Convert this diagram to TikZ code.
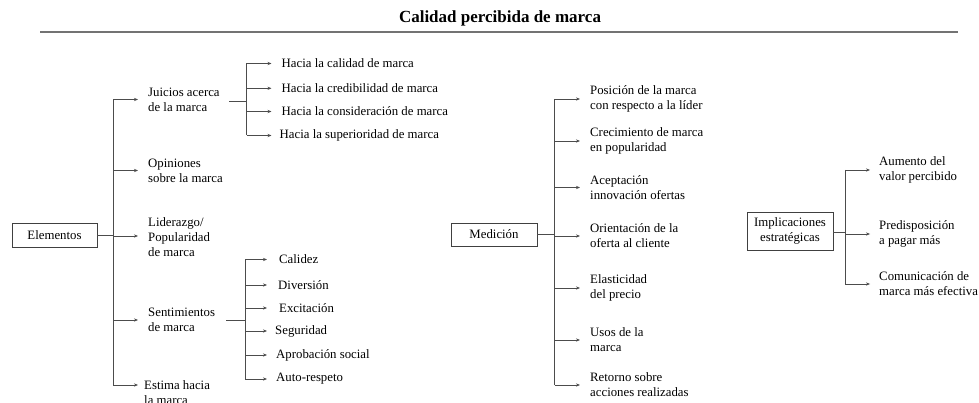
\documentclass[tikz,border=0pt]{standalone}
\usepackage{fontspec}
\setmainfont{Liberation Serif}
\usetikzlibrary{arrows.meta}
\begin{document}
\begin{tikzpicture}[x=1pt,y=-1pt,
  conn/.style={draw=black!70,line width=0.9pt},
  arr/.style={conn,-{Stealth[length=4pt,width=3.2pt]}},
  lbl/.style={anchor=west,inner sep=0pt,align=left,font=\fontsize{12.8}{14.8}\selectfont},
  boxn/.style={draw=black!75,line width=0.9pt,inner sep=0pt,align=center,font=\fontsize{12.8}{14.8}\selectfont}]
\useasboundingbox (0,0) rectangle (979,403);
% title
\node[font=\bfseries\fontsize{17}{20}\selectfont,inner sep=0pt] (title) at (500,18) {Calidad percibida de marca};
\coordinate (ruleL) at (40,32.5);
\coordinate (ruleR) at (958,32.5);
\draw[draw=black!55,line width=2pt] (ruleL) -- (ruleR);

% ---------- Elementos ----------
\node[boxn,minimum width=85pt,minimum height=24pt] (elem) at (54.5,235) {Elementos};
\coordinate (t1) at (113,235);
\draw[conn] (elem.east) -- (t1);
\node[lbl] (juic) at (148,99.5) {Juicios acerca\\de la marca};
\node[lbl] (opin) at (148,170.5) {Opiniones\\sobre la marca};
\node[lbl] (lider) at (148,237) {Liderazgo/\\Popularidad\\de marca};
\node[lbl] (senti) at (148,320) {Sentimientos\\de marca};
\node[lbl] (estima) at (144,393) {Estima hacia\\la marca};
\draw[conn] (t1 |- juic.west) -- ([yshift=8pt]t1 |- estima.west);
\foreach \n in {juic,opin,senti}{
  \draw[arr] (t1 |- \n.west) -- ([xshift=-10pt]\n.west);
}
\draw[arr] ([yshift=1pt]t1 |- lider.west) -- ([xshift=-10pt,yshift=1pt]lider.west);
\draw[arr] ([yshift=8pt]t1 |- estima.west) -- ([xshift=-6pt,yshift=8pt]estima.west);

% Juicios sub-branches
\coordinate (j0) at (229,101.7);
\coordinate (t2) at (246.7,101.7);
\draw[conn] (j0) -- (t2);
\node[lbl] (h1) at (281.5,63.5) {Hacia la calidad de marca};
\node[lbl] (h2) at (281.5,88.3) {Hacia la credibilidad de marca};
\node[lbl] (h3) at (281.5,111.5) {Hacia la consideración de marca};
\node[lbl] (h4) at (279.5,135.5) {Hacia la superioridad de marca};
\draw[conn] (t2 |- h1.west) -- (t2 |- h4.west);
\foreach \n in {h1,h2,h3}{
  \draw[arr] (t2 |- \n.west) -- ([xshift=-10pt]\n.west);
}
\draw[arr] (t2 |- h4.west) -- ([xshift=-8pt]h4.west);

% Sentimientos sub-branches
\coordinate (s0) at (226,320.5);
\coordinate (t3) at (245,320.5);
\draw[conn] (s0) -- (t3);
\node[lbl] (s1) at (279,259.5) {Calidez};
\node[lbl] (s2) at (278,285) {Diversión};
\node[lbl] (s3) at (279,308) {Excitación};
\node[lbl] (s4) at (275,331) {Seguridad};
\node[lbl] (s5) at (276,355) {Aprobación social};
\node[lbl] (s6) at (276,379) {Auto-respeto};
\draw[conn] (t3 |- s1.west) -- (t3 |- s6.west);
\foreach \n in {s1,s2,s3,s4,s5,s6}{
  \draw[arr] (t3 |- \n.west) -- ([xshift=-9pt]\n.west -| 276,0);
}

% ---------- Medición ----------
\node[boxn,minimum width=86pt,minimum height=23pt] (med) at (494,234.5) {Medición};
\coordinate (t4) at (554.5,234.5);
\draw[conn] (med.east) -- (t4);
\node[lbl] (m1) at (590,99) {Posición de la marca\\con respecto a la líder};
\node[lbl] (m2) at (590,141) {Crecimiento de marca\\en popularidad};
\node[lbl] (m3) at (590,187.5) {Aceptación\\innovación ofertas};
\node[lbl] (m4) at (590,236) {Orientación de la\\oferta al cliente};
\node[lbl] (m5) at (590,288) {Elasticidad\\del precio};
\node[lbl] (m6) at (590,340) {Usos de la\\marca};
\node[lbl] (m7) at (590,385) {Retorno sobre\\acciones realizadas};
\draw[conn] (t4 |- m1.west) -- (t4 |- m7.west);
\foreach \n in {m1,m2,m3,m4,m5,m6,m7}{
  \draw[arr] (t4 |- \n.west) -- ([xshift=-10pt]\n.west);
}

% ---------- Implicaciones ----------
\node[boxn,minimum width=86pt,minimum height=38pt] (impl) at (790,231) {Implicaciones\\estratégicas};
\coordinate (t5) at (845,232);
\draw[conn] (impl.east |- t5) -- (t5);
\node[lbl] (i1) at (879,170) {Aumento del\\valor percibido};
\node[lbl] (i2) at (879,234) {Predisposición\\a pagar más};
\node[lbl] (i3) at (879,284) {Comunicación de\\marca más efectiva};
\draw[conn] (t5 |- i1.west) -- (t5 |- i3.west);
\foreach \n in {i1,i2,i3}{
  \draw[arr] (t5 |- \n.west) -- ([xshift=-9pt]\n.west);
}
\end{tikzpicture}
\end{document}
